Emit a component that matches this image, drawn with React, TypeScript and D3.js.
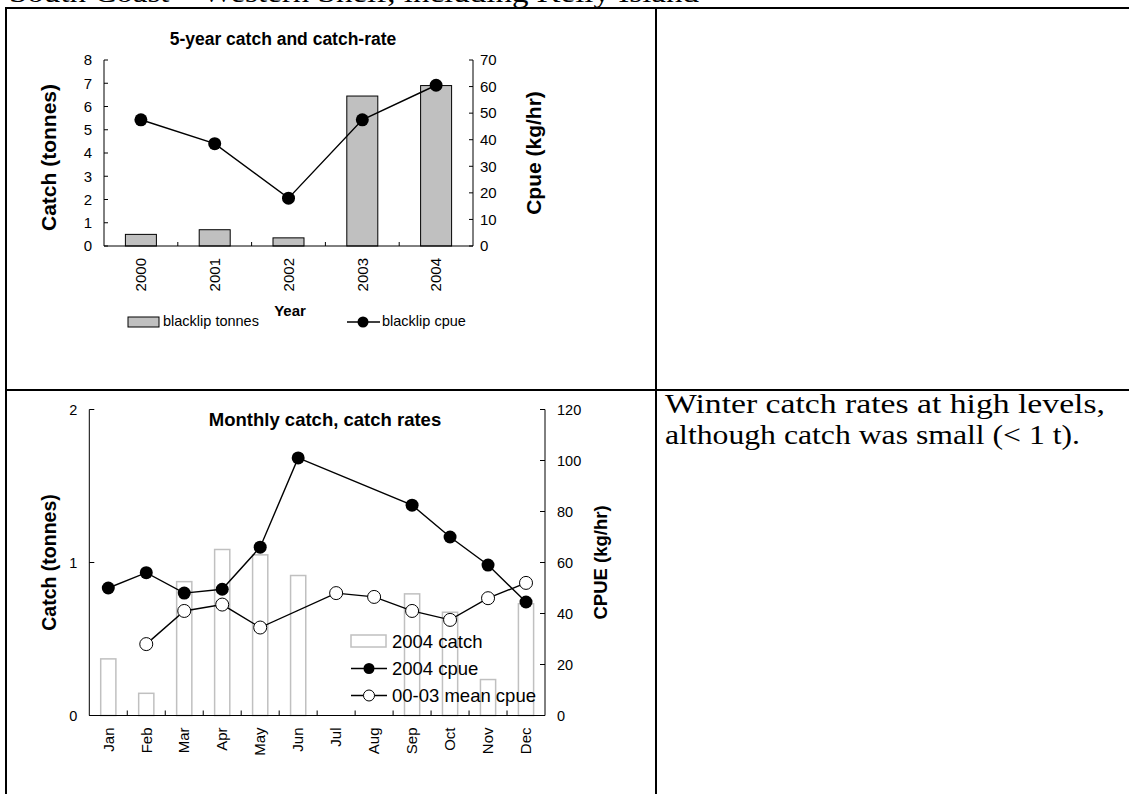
import React from "react";
import * as d3 from "d3";

const years = ["2000", "2001", "2002", "2003", "2004"];
const blacklipTonnes = [0.5, 0.7, 0.35, 6.45, 6.9];
const blacklipCpue = [47.5, 38.5, 18, 47.5, 60.5];
const leftTicks1 = [0, 1, 2, 3, 4, 5, 6, 7, 8];
const rightTicks1 = [0, 10, 20, 30, 40, 50, 60, 70];

const months = ["Jan", "Feb", "Mar", "Apr", "May", "Jun", "Jul", "Aug", "Sep", "Oct", "Nov", "Dec"];
const catch2004: (number | null)[] = [0.37, 0.145, 0.875, 1.085, 1.05, 0.915, null, null, 0.795, 0.675, 0.235, 0.73];
const cpue2004: (number | null)[] = [50, 56, 48, 49.5, 66, 101, null, null, 82.5, 70, 59, 44.5];
const meanCpue: (number | null)[] = [null, 28, 41, 43.5, 34.5, null, 48, 46.5, 41, 37.5, 46, 52];
const leftTicks2 = [0, 1, 2];
const rightTicks2 = [0, 20, 40, 60, 80, 100, 120];

const W = 1129;
const H = 794;
const SANS = "'Liberation Sans', Arial, Helvetica, sans-serif";
const SERIF = "'Liberation Serif', 'Times New Roman', serif";

export default function App() {
  // Chart 1 scales
  const x1 = d3.scaleBand<string>().domain(years).range([104, 473]);
  const bw1 = x1.bandwidth();
  const yL1 = d3.scaleLinear().domain([0, 8]).range([246, 60]);
  const yR1 = d3.scaleLinear().domain([0, 70]).range([246, 60]);
  const barW1 = bw1 * 0.42;
  const pts1 = years.map((y, i) => [x1(y)! + bw1 / 2, yR1(blacklipCpue[i])] as [number, number]);
  const line = d3.line<[number, number]>();

  // Chart 2 scales
  const x2 = d3.scaleBand<string>().domain(months).range([89.3, 545]);
  const bw2 = x2.bandwidth();
  const yL2 = d3.scaleLinear().domain([0, 2]).range([715.5, 409.5]);
  const yR2 = d3.scaleLinear().domain([0, 120]).range([715.5, 409.5]);
  const barW2 = bw2 * 0.4;
  const ptsA = months
    .map((m, i) => (cpue2004[i] == null ? null : ([x2(m)! + bw2 / 2, yR2(cpue2004[i]!)] as [number, number])))
    .filter((p): p is [number, number] => p !== null);
  const ptsB = months
    .map((m, i) => (meanCpue[i] == null ? null : ([x2(m)! + bw2 / 2, yR2(meanCpue[i]!)] as [number, number])))
    .filter((p): p is [number, number] => p !== null);

  const [l1, r1] = x1.range();
  const [l2, r2] = x2.range();

  return (
    <svg width={W} height={H} style={{ position: "absolute", left: 0, top: 0, background: "#fff" }} fontFamily={SANS}>
      <rect x={0} y={0} width={W} height={H} fill="#fff" />
      {/* heading text, cut off at the top edge as in the source page */}
      <text x={9} y={2} fontFamily={SERIF} fontSize={27} textLength={690} lengthAdjust="spacingAndGlyphs">
        South Coast – Western Shelf, including Kelly Island
      </text>

      {/* table lines */}
      <line x1={5} x2={W} y1={8} y2={8} stroke="#000" strokeWidth={2} />
      <line x1={6} x2={6} y1={7} y2={H} stroke="#000" strokeWidth={2} />
      <line x1={656} x2={656} y1={7} y2={H} stroke="#000" strokeWidth={2} />
      <line x1={5} x2={W} y1={390} y2={390} stroke="#000" strokeWidth={2} />

      {/* ===== Chart 1 ===== */}
      <text x={283} y={45} textAnchor="middle" fontWeight="bold" fontSize={17.5}>
        5-year catch and catch-rate
      </text>
      {years.map((y, i) => (
        <rect
          key={y}
          x={x1(y)! + (bw1 - barW1) / 2}
          y={yL1(blacklipTonnes[i])}
          width={barW1}
          height={yL1(0) - yL1(blacklipTonnes[i])}
          fill="#c0c0c0"
          stroke="#000"
          strokeWidth={1}
        />
      ))}
      {/* axes */}
      <line x1={l1} x2={l1} y1={yL1(8)} y2={yL1(0)} stroke="#000" />
      <line x1={r1} x2={r1} y1={yR1(70)} y2={yR1(0)} stroke="#000" />
      <line x1={l1} x2={r1} y1={yL1(0)} y2={yL1(0)} stroke="#000" />
      {leftTicks1.map((t) => (
        <g key={"l1" + t}>
          <line x1={l1} x2={l1 + 4} y1={yL1(t)} y2={yL1(t)} stroke="#000" />
          <text x={l1 - 12} y={yL1(t)} dy="0.35em" textAnchor="end" fontSize={15}>
            {t}
          </text>
        </g>
      ))}
      {rightTicks1.map((t) => (
        <g key={"r1" + t}>
          <line x1={r1 - 4} x2={r1} y1={yR1(t)} y2={yR1(t)} stroke="#000" />
          <text x={r1 + 7} y={yR1(t)} dy="0.35em" textAnchor="start" fontSize={15}>
            {t}
          </text>
        </g>
      ))}
      {years.slice(1).map((y) => (
        <line key={"xt1" + y} x1={x1(y)!} x2={x1(y)!} y1={yL1(0)} y2={yL1(0) - 4} stroke="#000" />
      ))}
      {years.map((y) => (
        <text
          key={"xl1" + y}
          transform={`translate(${x1(y)! + bw1 / 2},${yL1(0) + 12}) rotate(-90)`}
          textAnchor="end"
          dy="0.35em"
          fontSize={15}
        >
          {y}
        </text>
      ))}
      <path d={line(pts1)!} fill="none" stroke="#000" strokeWidth={1.4} />
      {pts1.map((p, i) => (
        <circle key={"c1" + i} cx={p[0]} cy={p[1]} r={6.5} fill="#000" />
      ))}
      <text transform="translate(49,157.5) rotate(-90)" textAnchor="middle" dy="0.35em" fontWeight="bold" fontSize={21}>
        Catch (tonnes)
      </text>
      <text transform="translate(534,153) rotate(-90)" textAnchor="middle" dy="0.35em" fontWeight="bold" fontSize={21}>
        Cpue (kg/hr)
      </text>
      <text x={290} y={316} textAnchor="middle" fontWeight="bold" fontSize={15}>
        Year
      </text>
      {/* legend 1 */}
      <rect x={128} y={317} width={31} height={10} fill="#c0c0c0" stroke="#000" />
      <text x={163} y={326} fontSize={14.5}>
        blacklip tonnes
      </text>
      <line x1={347} x2={380} y1={322} y2={322} stroke="#000" strokeWidth={1.4} />
      <circle cx={363} cy={322} r={5.5} fill="#000" />
      <text x={382} y={326} fontSize={14.5}>
        blacklip cpue
      </text>

      {/* ===== Chart 2 ===== */}
      <text x={325} y={426} textAnchor="middle" fontWeight="bold" fontSize={18.5}>
        Monthly catch, catch rates
      </text>
      {months.map((m, i) =>
        catch2004[i] == null ? null : (
          <rect
            key={"b2" + m}
            x={x2(m)! + (bw2 - barW2) / 2}
            y={yL2(catch2004[i]!)}
            width={barW2}
            height={yL2(0) - yL2(catch2004[i]!)}
            fill="none"
            stroke="#c0c0c0"
            strokeWidth={1.5}
          />
        )
      )}
      <line x1={l2} x2={l2} y1={yL2(2)} y2={yL2(0)} stroke="#000" />
      <line x1={r2} x2={r2} y1={yR2(120)} y2={yR2(0)} stroke="#000" />
      <line x1={l2} x2={r2} y1={yL2(0)} y2={yL2(0)} stroke="#000" />
      {leftTicks2.map((t) => (
        <g key={"l2" + t}>
          <line x1={l2} x2={l2 + 5} y1={yL2(t)} y2={yL2(t)} stroke="#000" />
          <text x={l2 - 12} y={yL2(t)} dy="0.35em" textAnchor="end" fontSize={14.5}>
            {t}
          </text>
        </g>
      ))}
      {rightTicks2.map((t) => (
        <g key={"r2" + t}>
          <line x1={r2 - 5} x2={r2} y1={yR2(t)} y2={yR2(t)} stroke="#000" />
          <text x={r2 + 12} y={yR2(t)} dy="0.35em" textAnchor="start" fontSize={14.5}>
            {t}
          </text>
        </g>
      ))}
      {months.slice(1).map((m) => (
        <line key={"xt2" + m} x1={x2(m)!} x2={x2(m)!} y1={yL2(0)} y2={yL2(0) - 5} stroke="#000" />
      ))}
      {months.map((m) => (
        <text
          key={"xl2" + m}
          transform={`translate(${x2(m)! + bw2 / 2},${yL2(0) + 12}) rotate(-90)`}
          textAnchor="end"
          dy="0.35em"
          fontSize={15}
        >
          {m}
        </text>
      ))}
      <path d={line(ptsA)!} fill="none" stroke="#000" strokeWidth={1.4} />
      <path d={line(ptsB)!} fill="none" stroke="#000" strokeWidth={1.4} />
      {ptsA.map((p, i) => (
        <circle key={"a" + i} cx={p[0]} cy={p[1]} r={6.5} fill="#000" />
      ))}
      {ptsB.map((p, i) => (
        <circle key={"b" + i} cx={p[0]} cy={p[1]} r={6.5} fill="#fff" stroke="#000" strokeWidth={1} />
      ))}
      <text transform="translate(49,562.5) rotate(-90)" textAnchor="middle" dy="0.35em" fontWeight="bold" fontSize={19.5}>
        Catch (tonnes)
      </text>
      <text transform="translate(601,562.5) rotate(-90)" textAnchor="middle" dy="0.35em" fontWeight="bold" fontSize={18.5}>
        CPUE (kg/hr)
      </text>
      {/* legend 2 */}
      <rect x={351} y={635} width={35} height={12} fill="none" stroke="#c0c0c0" strokeWidth={1.5} />
      <text x={392} y={648} fontSize={18.5}>
        2004 catch
      </text>
      <line x1={351} x2={387} y1={668.5} y2={668.5} stroke="#000" strokeWidth={1.4} />
      <circle cx={369} cy={668.5} r={5.5} fill="#000" />
      <text x={392} y={675} fontSize={18.5}>
        2004 cpue
      </text>
      <line x1={351} x2={387} y1={695.5} y2={695.5} stroke="#000" strokeWidth={1.4} />
      <circle cx={369} cy={695.5} r={5.5} fill="#fff" stroke="#000" />
      <text x={392} y={702} fontSize={18.5}>
        00-03 mean cpue
      </text>

      {/* right-hand note */}
      <text x={665} y={413} fontFamily={SERIF} fontSize={27.5} textLength={440} lengthAdjust="spacingAndGlyphs">
        Winter catch rates at high levels,
      </text>
      <text x={665} y={444} fontFamily={SERIF} fontSize={27.5} textLength={415} lengthAdjust="spacingAndGlyphs">
        although catch was small (&lt; 1 t).
      </text>
    </svg>
  );
}
